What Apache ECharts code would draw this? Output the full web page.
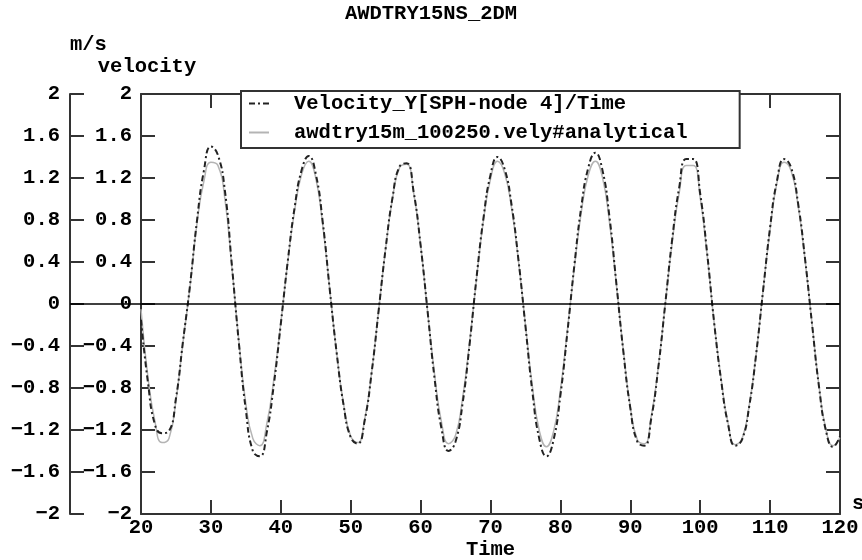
<!DOCTYPE html>
<html>
<head>
<meta charset="utf-8">
<script src="https://cdn.jsdelivr.net/npm/echarts@6/dist/echarts.min.js"></script>
<style>
    html, body { margin: 0; padding: 0; background: #fff; }
    #main { width: 862px; height: 560px; }
</style>
</head>
<body>
<div id="main"></div>
<script>
// time (s)
const times = [
    20, 21, 22, 23, 24, 25, 26, 27, 28, 29,
    30, 31, 32, 33, 34, 35, 36, 37, 38, 39,
    40, 41, 42, 43, 44, 45, 46, 47, 48, 49,
    50, 51, 52, 53, 54, 55, 56, 57, 58, 59,
    60, 61, 62, 63, 64, 65, 66, 67, 68, 69,
    70, 71, 72, 73, 74, 75, 76, 77, 78, 79,
    80, 81, 82, 83, 84, 85, 86, 87, 88, 89,
    90, 91, 92, 93, 94, 95, 96, 97, 98, 99,
    100, 101, 102, 103, 104, 105, 106, 107, 108, 109,
    110, 111, 112, 113, 114, 115, 116, 117, 118, 119,
    120,
]

// Velocity_Y[SPH-node 4]/Time  (m/s)
const sphVelocity = [
    -0.15, -0.75, -1.15, -1.23, -1.21, -0.90, -0.36, 0.17, 0.79, 1.27,
    1.50, 1.42, 1.08, 0.37, -0.37, -1.01, -1.40, -1.45, -1.22, -0.77,
    -0.19, 0.41, 0.93, 1.28, 1.41, 1.24, 0.78, 0.14, -0.47, -0.97,
    -1.27, -1.33, -1.11, -0.65, -0.06, 0.53, 1.02, 1.31, 1.34, 1.07,
    0.56, -0.07, -0.71, -1.19, -1.40, -1.31, -0.95, -0.39, 0.25, 0.82,
    1.23, 1.40, 1.29, 0.95, 0.42, -0.21, -0.84, -1.29, -1.45, -1.30,
    -0.87, -0.27, 0.37, 0.93, 1.30, 1.44, 1.28, 0.84, 0.20, -0.45,
    -0.99, -1.31, -1.35, -1.09, -0.61, 0.00, 0.62, 1.11, 1.38, 1.38,
    1.05, 0.48, -0.18, -0.73, -1.15, -1.35, -1.29, -0.98, -0.48, 0.13,
    0.73, 1.18, 1.38, 1.30, 0.96, 0.43, -0.19, -0.79, -1.21, -1.36,
    -1.26,
]

// awdtry15m_100250.vely#analytical  (m/s)
const analyticalVelocity = [
    -0.05, -0.70, -1.12, -1.32, -1.28, -0.92, -0.37, 0.16, 0.76, 1.17,
    1.35, 1.32, 1.00, 0.35, -0.35, -0.95, -1.28, -1.35, -1.14, -0.72,
    -0.18, 0.40, 0.90, 1.24, 1.36, 1.20, 0.75, 0.14, -0.47, -0.96,
    -1.26, -1.32, -1.10, -0.65, -0.06, 0.53, 1.01, 1.30, 1.33, 1.06,
    0.56, -0.07, -0.67, -1.13, -1.33, -1.25, -0.90, -0.37, 0.24, 0.80,
    1.19, 1.36, 1.25, 0.92, 0.41, -0.20, -0.79, -1.21, -1.36, -1.22,
    -0.82, -0.25, 0.35, 0.88, 1.23, 1.36, 1.21, 0.79, 0.19, -0.44,
    -0.98, -1.29, -1.33, -1.07, -0.60, 0.00, 0.59, 1.06, 1.32, 1.32,
    1.01, 0.46, -0.18, -0.72, -1.14, -1.34, -1.28, -0.97, -0.48, 0.13,
    0.71, 1.16, 1.35, 1.27, 0.94, 0.42, -0.19, -0.78, -1.20, -1.35,
    -1.27,
]

const seriesNames = ['Velocity_Y[SPH-node 4]/Time', 'awdtry15m_100250.vely#analytical']

const FONT = "'Liberation Mono', 'DejaVu Sans Mono', monospace"
const FS = 20.5
const AXIS_COLOR = '#333'

const pairs = (xs, ys) => xs.map((x, i) => [x, ys[i]])

// 1.2000000000000002 -> "1.2", -0.4 -> "−0.4"
const yLabel = (v) => String(Math.round(v * 10) / 10).replace('-', '\u2212')

const txt = {
    fontFamily: FONT,
    fontWeight: 'bold',
    fontSize: FS,
    color: '#000',
}

function renderChart() {
    var chartDom = document.getElementById('main')
    var myChart = echarts.init(chartDom, null, { renderer: 'canvas' })

    var axisLine = { show: true, onZero: false, lineStyle: { color: AXIS_COLOR, width: 2 } }
    var axisTick = { show: true, inside: true, length: 14, lineStyle: { color: AXIS_COLOR, width: 2 } }

    var yCommon = {
        type: 'value',
        min: -2,
        max: 2,
        interval: 0.4,
        splitLine: { show: false },
        axisLine: axisLine,
        axisTick: axisTick,
    }
    var xCommon = {
        type: 'value',
        min: 20,
        max: 120,
        interval: 10,
        splitLine: { show: false },
        axisLine: axisLine,
        axisTick: axisTick,
    }

    var option = {
        animation: false,
        backgroundColor: '#fff',
        title: {
            text: 'AWDTRY15NS_2DM',
            left: 'center',
            top: -2,
            textStyle: txt,
        },
        legend: {
            data: seriesNames,
            orient: 'vertical',
            left: 241,
            top: 91,
            padding: [2, 52, 5, 7],
            itemGap: 8,
            itemWidth: 20,
            itemHeight: 12,
            icon: 'inherit',
            itemStyle: { opacity: 0, borderWidth: 0 },
            backgroundColor: '#fff',
            borderColor: AXIS_COLOR,
            borderWidth: 2,
            borderRadius: 0,
            textStyle: Object.assign({}, txt, { padding: [0, 0, 0, 20] }),
            z: 10,
        },
        grid: [
            // main plot
            { left: 141, right: 22, top: 94, bottom: 46, containLabel: false, outerBoundsMode: 'none' },
            // outer unit axis (m/s)
            { left: 70, right: 22, top: 94, bottom: 46, containLabel: false, outerBoundsMode: 'none' },
        ],
        xAxis: [
            Object.assign({}, xCommon, {
                gridIndex: 0,
                position: 'bottom',
                name: 'Time',
                nameLocation: 'middle',
                nameGap: 25,
                nameMoveOverlap: false,
                nameTextStyle: txt,
                axisLabel: Object.assign({ margin: 3 }, txt),
            }),
            Object.assign({}, xCommon, {
                gridIndex: 0,
                position: 'top',
                axisLabel: { show: false },
            }),
            {
                // only carries the unit "s" at the end of the time axis
                gridIndex: 0,
                type: 'value',
                position: 'bottom',
                min: 20,
                max: 120,
                name: 's',
                nameLocation: 'end',
                nameGap: 12,
                nameMoveOverlap: false,
                nameTextStyle: Object.assign({ verticalAlign: 'bottom' }, txt),
                axisLine: { show: false, onZero: false },
                axisTick: { show: false },
                axisLabel: { show: false },
                splitLine: { show: false },
            },
            {
                gridIndex: 1,
                type: 'value',
                min: 20,
                max: 120,
                show: false,
                axisLine: { onZero: false },
            },
        ],
        yAxis: [
            Object.assign({}, yCommon, {
                gridIndex: 0,
                position: 'left',
                name: 'velocity',
                nameLocation: 'end',
                nameGap: 17,
                nameTextStyle: Object.assign({ padding: [0, 0, 0, 12] }, txt),
                axisLabel: Object.assign({ margin: 9, formatter: yLabel }, txt),
            }),
            Object.assign({}, yCommon, {
                gridIndex: 0,
                position: 'right',
                axisLabel: { show: false },
            }),
            Object.assign({}, yCommon, {
                gridIndex: 1,
                position: 'left',
                name: 'm/s',
                nameLocation: 'end',
                nameGap: 39,
                nameTextStyle: Object.assign({ align: 'left' }, txt),
                axisLabel: Object.assign({ margin: 10, formatter: yLabel }, txt),
            }),
        ],
        series: [
            {
                name: seriesNames[0],
                type: 'line',
                xAxisIndex: 0,
                yAxisIndex: 0,
                data: pairs(times, sphVelocity),
                smooth: true,
                showSymbol: false,
                symbol: 'none',
                z: 3,
                itemStyle: { color: '#222' },
                lineStyle: { color: '#222', width: 2, type: [6, 3, 2, 3] },
            },
            {
                name: seriesNames[1],
                type: 'line',
                xAxisIndex: 0,
                yAxisIndex: 0,
                data: pairs(times, analyticalVelocity),
                smooth: true,
                showSymbol: false,
                symbol: 'none',
                z: 2,
                itemStyle: { color: '#b4b4b4' },
                lineStyle: { color: '#b4b4b4', width: 1.5 },
            },
            {
                // zero line running from the outer axis across the plot
                type: 'line',
                xAxisIndex: 3,
                yAxisIndex: 2,
                data: [],
                silent: true,
                markLine: {
                    silent: true,
                    symbol: 'none',
                    label: { show: false },
                    lineStyle: { color: '#000', width: 1.5, type: 'solid' },
                    data: [{ yAxis: 0 }],
                },
            },
        ],
    }
    option && myChart.setOption(option)
}

renderChart()
</script>
</body>
</html>
